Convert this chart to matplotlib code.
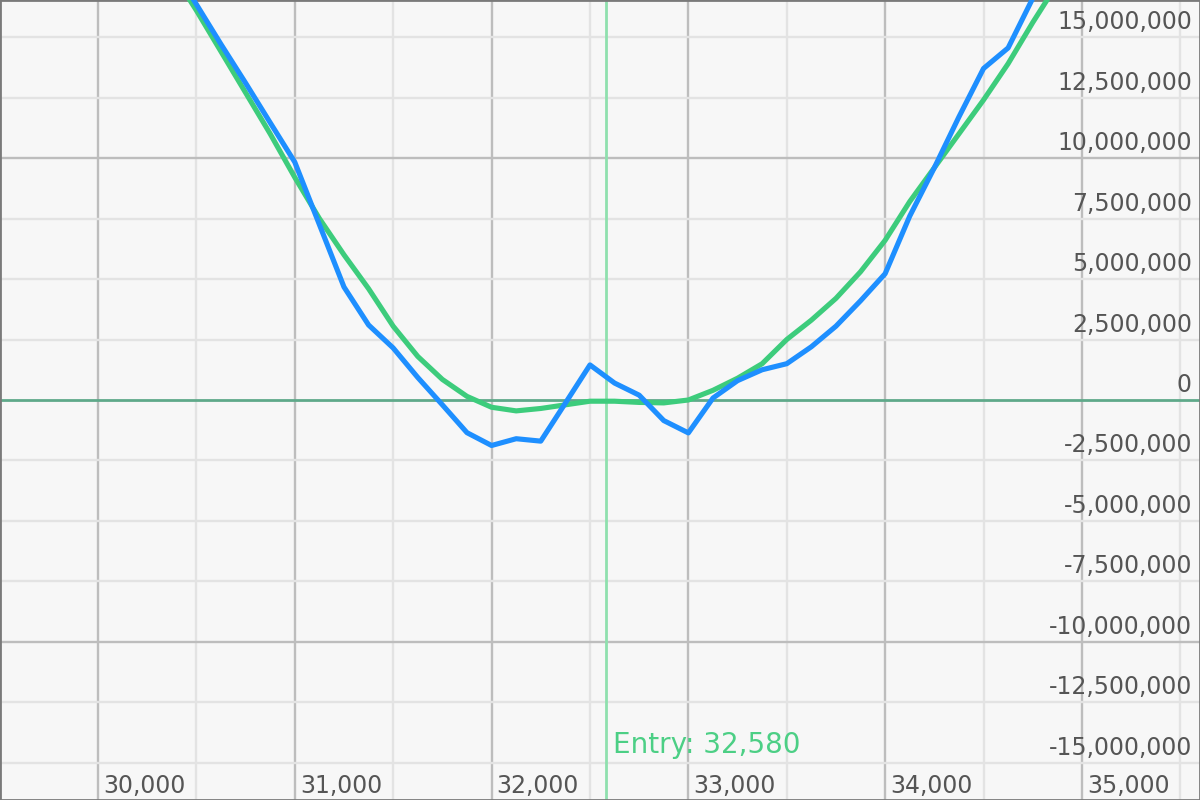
import matplotlib
matplotlib.use("Agg")
import matplotlib.pyplot as plt
import matplotlib.transforms as mtransforms

# ---- data ----
price = [30375, 30500, 30625, 30750, 30875, 31000, 31125, 31250, 31375, 31500,
         31625, 31750, 31875, 32000, 32125, 32250, 32375, 32500, 32625, 32750,
         32875, 33000, 33125, 33250, 33375, 33500, 33625, 33750, 33875, 34000,
         34125, 34250, 34375, 34500, 34625, 34750, 34875]
pnl_now = [18.0, 16.35, 14.7, 13.1, 11.46, 9.83, 7.25, 4.67, 3.1, 2.15,
           0.93, -0.2, -1.35, -1.88, -1.6, -1.7, -0.13, 1.45, 0.7, 0.2,
           -0.85, -1.36, 0.08, 0.8, 1.25, 1.5, 2.2, 3.05, 4.1, 5.22,
           7.6, 9.6, 11.7, 13.7, 14.55, 16.6, 18.6]
pnl_model = [17.7, 16.1, 14.4, 12.7, 11.0, 9.2, 7.5, 6.0, 4.6, 3.05,
             1.8, 0.85, 0.15, -0.3, -0.45, -0.35, -0.2, -0.05, -0.05, -0.1,
             -0.12, 0.0, 0.4, 0.9, 1.5, 2.5, 3.3, 4.2, 5.3, 6.6,
             8.2, 9.6, 11.0, 12.4, 13.9, 15.6, 17.2]
entry_price = 32580
x_ticks = [30000, 31000, 32000, 33000, 34000, 35000]
y_ticks = [15.0, 12.5, 10.0, 7.5, 5.0, 2.5, 0.0, -2.5, -5.0, -7.5, -10.0, -12.5, -15.0]

SCALE = 1_000_000

fig = plt.figure(figsize=(12, 8), dpi=100)
fig.patch.set_facecolor("#f7f7f7")
ax = fig.add_axes([0, 0, 1, 1])
ax.set_facecolor("#f7f7f7")
ax.set_xlim(29502, 35600)
ax.set_ylim(-16.53 * SCALE, 16.53 * SCALE)

# grid
for xv in range(29500, 36000, 500):
    major = xv % 1000 == 0
    ax.axvline(xv, color="#bdbdbd" if major else "#e3e3e3", lw=1.7, zorder=1)
for yv in y_ticks:
    if yv == 0:
        continue
    major = abs(yv) % 10 == 0
    ax.axhline(yv * SCALE, color="#bdbdbd" if major else "#e3e3e3", lw=1.7, zorder=1)
ax.axhline(0, color="#5fa98a", lw=2.0, zorder=2)

# entry line
ax.axvline(entry_price, color="#8fe0ae", lw=2.0, zorder=2)

# series
ax.plot(price, [v * SCALE for v in pnl_model], color="#3dcc7c", lw=3.7, zorder=3,
        solid_joinstyle="round")
ax.plot(price, [v * SCALE for v in pnl_now], color="#1e8fff", lw=3.7, zorder=4,
        solid_joinstyle="round")

fs = 17
lab_col = "#555555"
# y labels (right, above gridline)
ytr = mtransforms.blended_transform_factory(ax.transAxes, ax.transData)
ytr = ytr + mtransforms.ScaledTranslation(-8 / 100, 8 / 100, fig.dpi_scale_trans)
for yv in y_ticks:
    ax.text(1.0, yv * SCALE, f"{int(yv * SCALE):,}", transform=ytr, ha="right",
            va="baseline", fontsize=fs, color=lab_col, family="DejaVu Sans", zorder=5)

# x labels (bottom, right of gridline)
xtr = mtransforms.blended_transform_factory(ax.transData, ax.transAxes)
xtr = xtr + mtransforms.ScaledTranslation(5 / 100, 7 / 100, fig.dpi_scale_trans)
for xv in x_ticks:
    ax.text(xv, 0.0, f"{xv:,}", transform=xtr, ha="left", va="baseline",
            fontsize=fs, color=lab_col, family="DejaVu Sans", zorder=5)

# entry label
etr = mtransforms.blended_transform_factory(ax.transData, ax.transAxes)
etr = etr + mtransforms.ScaledTranslation(7 / 100, 47 / 100, fig.dpi_scale_trans)
ax.text(entry_price, 0.0, f"Entry: {entry_price:,}", transform=etr, ha="left",
        va="baseline", fontsize=20, color="#4ccf85", family="DejaVu Sans", zorder=5)

ax.set_xticks([])
ax.set_yticks([])
for s in ax.spines.values():
    s.set_color("#7a7a7a")
    s.set_linewidth(2.0)

fig.savefig("out.png", dpi=100, facecolor=fig.get_facecolor())
